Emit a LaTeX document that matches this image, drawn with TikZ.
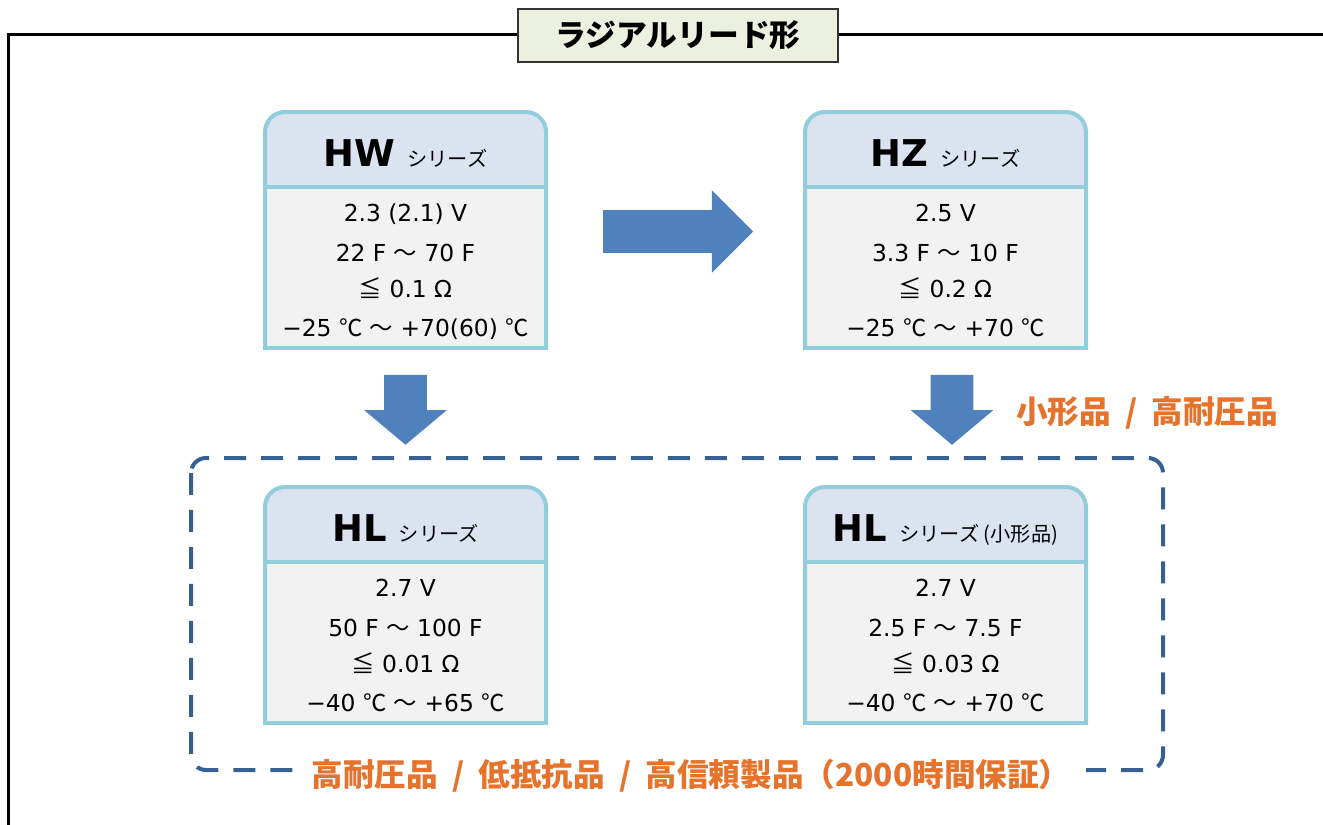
\documentclass[tikz,border=0pt]{standalone}
\usepackage{fontspec}
\setmainfont{DejaVu Sans}
\newfontfamily\cjk{Noto Sans CJK JP}
\usetikzlibrary{calc,shapes.arrows}
\definecolor{cardline}{HTML}{92CDDC}
\definecolor{headfill}{HTML}{DCE3F0}
\definecolor{bodyfill}{HTML}{F2F2F2}
\definecolor{arrowblue}{HTML}{4F81BD}
\definecolor{dashblue}{HTML}{376092}
\definecolor{noteorange}{HTML}{E6732C}
\definecolor{titlefill}{HTML}{EBF1DE}
\tikzset{
cardborder/.style={draw=cardline, line width=0.08cm},
cardhead/.style={anchor=base, inner sep=0pt},
cardtext/.style={anchor=base, inner sep=0pt, font=\fontsize{13.3}{16}\selectfont},
bigarrow/.style={single arrow, fill=arrowblue, inner sep=0.42cm, minimum width=1.64cm, single arrow head extend=0.4cm},
orangenote/.style={text=noteorange, inner sep=0pt, font=\cjk\bfseries\fontsize{18}{22}\selectfont}
}
\newcommand{\sname}[2]{{\bfseries\fontsize{21}{24}\selectfont #1}\hspace{7pt}{\cjk\fontsize{11.5}{13}\selectfont #2}}
\newcommand{\slashsep}{\hspace{0.45em}/\hspace{0.45em}}
\newcommand{\seriescard}[6]{%
\fill[headfill, rounded corners=0.4cm] (0,0) rectangle (281,110);
\fill[bodyfill] (0,75) rectangle (281,236);
\draw[cardborder] (0,75) -- (281,75);
\draw[cardborder, rounded corners=0.4cm] (0,236) -- (0,0) -- (281,0) -- (281,236);
\draw[cardborder, line cap=rect] (0,236) -- (281,236);
\node[cardhead] (#1-head) at (140.5,54) {#2};
\node[cardtext] (#1-a) at (140.5,109.5) {#3};
\node[cardtext] (#1-b) at (140.5,149.5) {#4};
\node[cardtext] (#1-c) at (140.5,185.5) {#5};
\node[cardtext] (#1-d) at (140.5,224.5) {#6};
\coordinate (#1-n) at (140.5,0);
\coordinate (#1-s) at (140.5,236);
\coordinate (#1-e) at (281,118);
\coordinate (#1-w) at (0,118);
}

\begin{document}
\begin{tikzpicture}[x=0.02cm, y=-0.02cm]
\useasboundingbox (0,0) rectangle (1323,825);

\draw[line width=0.06cm] (8.5,840) -- (8.5,34) -- (1340,34);

\node[draw=black!80, fill=titlefill, line width=0.03cm, minimum width=6.4cm, minimum height=1.06cm, font=\cjk\bfseries\fontsize{17.5}{20}\selectfont] (title) at (678,35.5) {ラジアルリード形};

\draw[dashblue, line width=0.08cm, dash pattern=on 0.44cm off 0.3cm, rounded corners=0.3cm] (191,458) rectangle (1163,770);

\begin{scope}[shift={(265,112)}]
\seriescard{hw}{\sname{HW}{シリーズ}}{2.3 (2.1) V}{22 F {\cjk ～} 70 F}{{\cjk ≦} 0.1 Ω}{−25 {\cjk ℃} {\cjk ～} +70(60) {\cjk ℃}}
\end{scope}

\begin{scope}[shift={(805,112)}]
\seriescard{hz}{\sname{HZ}{シリーズ}}{2.5 V}{3.3 F {\cjk ～} 10 F}{{\cjk ≦} 0.2 Ω}{−25 {\cjk ℃} {\cjk ～} +70 {\cjk ℃}}
\end{scope}

\begin{scope}[shift={(265,487)}]
\seriescard{hla}{\sname{HL}{シリーズ}}{2.7 V}{50 F {\cjk ～} 100 F}{{\cjk ≦} 0.01 Ω}{−40 {\cjk ℃} {\cjk ～} +65 {\cjk ℃}}
\end{scope}

\begin{scope}[shift={(805,487)}]
\seriescard{hlb}{\sname{HL}{シリーズ (小形品)}}{2.7 V}{2.5 F {\cjk ～} 7.5 F}{{\cjk ≦} 0.03 Ω}{−40 {\cjk ℃} {\cjk ～} +70 {\cjk ℃}}
\end{scope}

\node[bigarrow, minimum height=3cm, xshift=-0.16cm, yshift=-0.03cm] (hw2hz) at ($(hw-e)!0.5!(hz-w)$) {};
\node[bigarrow, minimum height=1.4cm, single arrow tip angle=100, shape border rotate=270] (hw2hla) at ($(hw-s)!0.38!(hla-n)$) {};
\node[bigarrow, minimum height=1.4cm, single arrow tip angle=100, shape border rotate=270, xshift=0.13cm] (hz2hlb) at ($(hz-s)!0.38!(hlb-n)$) {};

\node[orangenote] (smallnote) at (1147,413) {小形品\slashsep 高耐圧品};
\node[orangenote, fill=white, inner xsep=0.3cm, inner ysep=0.1cm] (bottomnote) at (691,776) {高耐圧品\slashsep 低抵抗品\slashsep 高信頼製品（2000時間保証）};

\end{tikzpicture}
\end{document}
